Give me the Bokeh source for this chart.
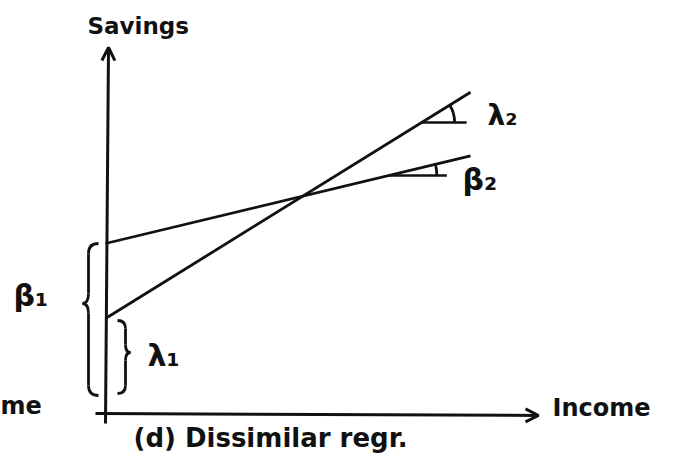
from bokeh.plotting import figure
from bokeh.models import Range1d, Arrow, OpenHead
from bokeh.core.properties import value
from bokeh.embed import file_html
from bokeh.resources import INLINE
import numpy as np

# Two savings functions with dissimilar intercepts and slopes
beta1 = 170      # intercept of the flatter line
beta2 = 0.24     # slope of the flatter line
lambda1 = 95     # intercept of the steeper line
lambda2 = 0.62   # slope of the steeper line
income = [0, 365]

x_label = "Income"
y_label = "Savings"
caption = "(d) Dissimilar regr."

INK = "#111111"
FONT = value("DejaVu Sans")

p = figure(width=675, height=468, output_backend="svg", toolbar_location=None,
           x_range=Range1d(-105, 570), y_range=Range1d(-55, 413),
           min_border=0, min_border_left=0, min_border_right=0,
           min_border_top=0, min_border_bottom=0)
p.axis.visible = False
p.grid.visible = False
p.outline_line_color = None
p.background_fill_color = "white"
p.border_fill_color = "white"

# axes drawn as arrows from the origin
p.add_layout(Arrow(end=OpenHead(size=13, line_width=3, line_color=INK),
                   x_start=0, y_start=-10, x_end=3, y_end=366,
                   line_width=3, line_color=INK))
p.add_layout(Arrow(end=OpenHead(size=13, line_width=3, line_color=INK),
                   x_start=-10, y_start=0, x_end=433, y_end=-2,
                   line_width=3, line_color=INK))

# regression lines
xs = np.array(income, dtype=float)
p.line(xs, beta1 + beta2 * xs, line_width=2.8, line_color=INK)
p.line(xs, lambda1 + lambda2 * xs, line_width=2.8, line_color=INK)


def slope_mark(intercept, slope, y_at, length, radius):
    """Horizontal reference line and small arc marking a slope angle."""
    x0 = (y_at - intercept) / slope
    p.segment(x0, y_at, x0 + length, y_at, line_width=2.6, line_color=INK)
    p.arc(x0, y_at, radius=radius, start_angle=0, end_angle=np.arctan(slope),
          line_width=2.8, line_color=INK)


slope_mark(lambda1, lambda2, 291, 45, 33)
slope_mark(beta1, beta2, 238, 58, 48)


def brace(x_spine, x_end, x_tip, y_top, y_bot, y_tip, q=10):
    """Curly brace built from quadratic curves and straight runs."""
    kw = dict(line_width=2.8, line_color=INK)
    p.quadratic(x0=x_end, y0=y_top, x1=x_spine, y1=y_top - q, cx=x_spine, cy=y_top, **kw)
    p.segment(x_spine, y_top - q, x_spine, y_tip + q, **kw)
    p.quadratic(x0=x_spine, y0=y_tip + q, x1=x_tip, y1=y_tip, cx=x_spine, cy=y_tip, **kw)
    p.quadratic(x0=x_tip, y0=y_tip, x1=x_spine, y1=y_tip - q, cx=x_spine, cy=y_tip, **kw)
    p.segment(x_spine, y_tip - q, x_spine, y_bot + q, **kw)
    p.quadratic(x0=x_spine, y0=y_bot + q, x1=x_end, y1=y_bot, cx=x_spine, cy=y_bot, **kw)


brace(-17, -7, -23, beta1, 18, 110)
brace(20, 12, 25, lambda1 - 2, 20, 61, q=8)

# labels
def label(x, y, t, size):
    p.text(x=[x], y=[y], text=[t], text_font=FONT, text_font_size=size,
           text_font_style="bold", text_color=INK, text_align="left",
           text_baseline="middle")


label(-18, 388, y_label, "23px")
label(447, 6, x_label, "24px")
label(-105, 8, "me", "24px")
label(28, -24, caption, "26px")
label(-92, 118, "β₁", "30px")
label(42, 58, "λ₁", "30px")
label(382, 298, "λ₂", "28px")
label(357, 234, "β₂", "30px")

open("out.html", "w").write(file_html(p, INLINE))
